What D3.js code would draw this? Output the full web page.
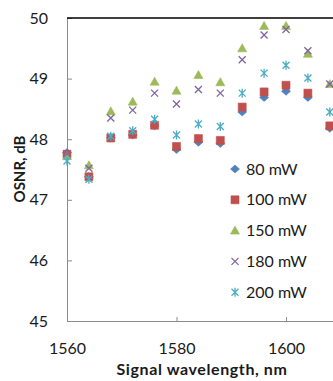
<!DOCTYPE html>
<html>
<head>
<meta charset="utf-8">
<script src="https://cdn.jsdelivr.net/npm/d3@7"></script>
<style>
  html, body { margin: 0; padding: 0; background: #fff; }
  svg { display: block; }
  text { font-family: Lato, "Open Sans", sans-serif; fill: #1a1a1a; }
</style>
</head>
<body>
<svg id="chart" width="333" height="381"></svg>
<script>
// Signal wavelengths (nm)
const wavelengths = [1560, 1564, 1568, 1572, 1576, 1580, 1584, 1588, 1592, 1596, 1600, 1604, 1608];

// OSNR (dB) per pump power
const osnr80  = [47.78, 47.38, 48.02, 48.07, 48.22, 47.83, 47.95, 47.93, 48.45, 48.69, 48.79, 48.69, 48.18];
const osnr100 = [47.75, 47.38, 48.02, 48.08, 48.23, 47.88, 48.01, 47.98, 48.53, 48.78, 48.89, 48.76, 48.22];
const osnr150 = [47.72, 47.57, 48.46, 48.62, 48.95, 48.80, 49.06, 48.94, 49.50, 49.87, 49.87, 49.41, 48.91];
const osnr180 = [47.76, 47.52, 48.35, 48.48, 48.76, 48.58, 48.82, 48.76, 49.31, 49.72, 49.81, 49.46, 48.91];
const osnr200 = [47.64, 47.34, 48.05, 48.14, 48.33, 48.07, 48.25, 48.21, 48.76, 49.09, 49.22, 49.01, 48.45];

const seriesNames = ["80 mW", "100 mW", "150 mW", "180 mW", "200 mW"];
const seriesValues = [osnr80, osnr100, osnr150, osnr180, osnr200];
const seriesColors = ["#4f81bd", "#c0504d", "#9bbb59", "#8064a2", "#4bacc6"];
const seriesShapes = ["diamond", "square", "triangle", "cross", "star"];

const xTicks = [1560, 1580, 1600];
const yTicks = [45, 46, 47, 48, 49, 50];

const svg = d3.select("#chart");
const plotLeft = 67, plotTop = 18, plotBottom = 321;

const x = d3.scaleLinear().domain([1560, 1620]).range([plotLeft, plotLeft + 328.5]);
const y = d3.scaleLinear().domain([45, 50]).range([plotBottom, plotTop]);

// marker path generators, centred on the origin
function markerPath(shape) {
  const p = d3.path();
  if (shape === "diamond") {
    p.moveTo(0, -4); p.lineTo(4.5, 0); p.lineTo(0, 4); p.lineTo(-4.5, 0); p.closePath();
  } else if (shape === "square") {
    p.rect(-4, -4, 8, 8);
  } else if (shape === "triangle") {
    p.moveTo(0, -4.5); p.lineTo(4.5, 3.5); p.lineTo(-4.5, 3.5); p.closePath();
  } else if (shape === "cross") {
    p.moveTo(-3.5, -3.5); p.lineTo(3.5, 3.5); p.moveTo(3.5, -3.5); p.lineTo(-3.5, 3.5);
  } else {
    p.moveTo(-3.5, -3.5); p.lineTo(3.5, 3.5); p.moveTo(3.5, -3.5); p.lineTo(-3.5, 3.5);
    p.moveTo(0, -4.5); p.lineTo(0, 4.5);
  }
  return p.toString();
}
function styleMarker(sel, i) {
  const filled = seriesShapes[i] !== "cross" && seriesShapes[i] !== "star";
  sel.attr("d", markerPath(seriesShapes[i]))
    .attr("fill", filled ? seriesColors[i] : "none")
    .attr("stroke", seriesColors[i])
    .attr("stroke-width", filled ? 0.6 : 1.3);
}

// axes
const yAxis = d3.axisLeft(y).tickValues(yTicks).tickSize(-5).tickPadding(19).tickFormat(d3.format("d"));
const gy = svg.append("g").attr("transform", `translate(${plotLeft},0)`).call(yAxis);
gy.select(".domain").attr("stroke", "#8c8c8c");
gy.selectAll(".tick line").attr("stroke", "#8c8c8c");
gy.selectAll(".tick text").attr("font-size", 16).attr("fill", "#1a1a1a")
  .attr("font-family", "Lato, 'Open Sans', sans-serif");

const xAxis = d3.axisBottom(x).tickValues(xTicks).tickSize(-4).tickPadding(22).tickFormat(d3.format("d"));
const gx = svg.append("g").attr("transform", `translate(0,${plotBottom})`).call(xAxis);
gx.select(".domain").attr("stroke", "#8c8c8c");
gx.selectAll(".tick line").attr("stroke", "#8c8c8c");
gx.selectAll(".tick text").attr("font-size", 16).attr("fill", "#1a1a1a")
  .attr("font-family", "Lato, 'Open Sans', sans-serif");

// top border of the plot area
svg.append("line")
  .attr("x1", plotLeft).attr("x2", x(1620)).attr("y1", plotTop).attr("y2", plotTop)
  .attr("stroke", "#000").attr("stroke-width", 1.6);

// data markers
seriesValues.forEach((vals, i) => {
  svg.append("g").selectAll("path")
    .data(vals.map((v, k) => [wavelengths[k], v]))
    .join("path")
    .attr("transform", d => `translate(${x(d[0])},${y(d[1])})`)
    .call(styleMarker, i);
});

// legend
const legend = svg.append("g");
seriesNames.forEach((name, i) => {
  const ly = 169 + i * 30.8;
  legend.append("path").attr("transform", `translate(235,${ly})`).call(styleMarker, i);
  legend.append("text").attr("x", 246).attr("y", ly).attr("dy", "0.35em")
    .attr("font-size", 16).text(name);
});

// axis titles
svg.append("text").attr("x", 202).attr("y", 369).attr("dy", "0.35em")
  .attr("text-anchor", "middle").attr("font-size", 16).attr("font-weight", "bold")
  .attr("letter-spacing", 0.6)
  .text("Signal wavelength, nm");
svg.append("text").attr("transform", "translate(20,169) rotate(-90)").attr("dy", "0.35em")
  .attr("text-anchor", "middle").attr("font-size", 15).attr("font-weight", "bold")
  .text("OSNR, dB");
</script>
</body>
</html>
